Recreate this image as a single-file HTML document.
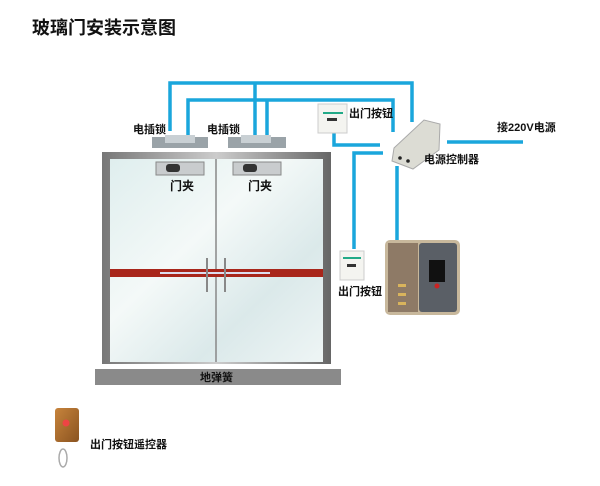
<!DOCTYPE html>
<html><head><meta charset="utf-8"><style>
html,body{margin:0;padding:0;background:#fff;}
svg{display:block;font-family:"Liberation Sans","Noto Sans CJK SC",sans-serif;}
</style></head><body>
<svg width="600" height="486" viewBox="0 0 600 486">
<defs>
<linearGradient id="gl" x1="0" y1="0" x2="1" y2="1">
<stop offset="0" stop-color="#dfeeee"/><stop offset="0.4" stop-color="#f4f9f8"/><stop offset="0.7" stop-color="#dbe9ea"/><stop offset="1" stop-color="#eef5f5"/></linearGradient>
<linearGradient id="fr" x1="0" y1="0" x2="1" y2="0">
<stop offset="0" stop-color="#777"/><stop offset="0.5" stop-color="#ccc"/><stop offset="1" stop-color="#666"/></linearGradient>
<linearGradient id="wood" x1="0" y1="0" x2="1" y2="1"><stop offset="0" stop-color="#c7843c"/><stop offset="1" stop-color="#8a5320"/></linearGradient>
</defs>
<text x="32" y="34" font-size="18" fill="#111" font-weight="bold">玻璃门安装示意图</text>
<g fill="none" stroke="#1aa6dc" stroke-width="3.5">
<polyline points="170,131 170,83 412,83 412,122"/>
<polyline points="188,136 188,100 393,100 393,132"/>
<line x1="255" y1="83" x2="255" y2="136"/>
<line x1="267" y1="100" x2="267" y2="136"/>
<polyline points="334,133 334,145 380,145"/>
<polyline points="383,153 354,153 354,249"/>
<line x1="397" y1="166" x2="397" y2="240"/>
<line x1="447" y1="142" x2="523" y2="142"/>
</g>
<!-- controller -->
<polygon points="394,148 424,120 440,124 439,150 413,169 392,161" fill="#dcdcd4" stroke="#aaa"/>
<circle cx="400" cy="158" r="1.8" fill="#222"/><circle cx="408" cy="161" r="1.8" fill="#222"/>
<g font-size="11" fill="#111" font-weight="bold">
<text x="133" y="133">电插锁</text>
<text x="207" y="133">电插锁</text>
<text x="349" y="117">出门按钮</text>
<text x="424" y="163">电源控制器</text>
<text x="497" y="131">接220V电源</text>
<text x="338" y="295">出门按钮</text>
<text x="90" y="448">出门按钮遥控器</text>
</g>
<!-- locks -->
<rect x="152" y="137" width="56" height="11" fill="#9aa3a8"/><rect x="165" y="135" width="30" height="8" fill="#c9d0d4"/>
<rect x="228" y="137" width="58" height="11" fill="#9aa3a8"/><rect x="241" y="135" width="30" height="8" fill="#c9d0d4"/>
<!-- door -->
<rect x="102" y="152" width="229" height="212" fill="url(#fr)"/>
<rect x="110" y="159" width="213" height="203" fill="url(#gl)"/>
<line x1="216" y1="159" x2="216" y2="362" stroke="#888" stroke-width="1.5"/>
<rect x="110" y="269" width="213" height="8" fill="#a8261b"/>
<rect x="160" y="272" width="110" height="2" fill="#dde"/>
<line x1="207" y1="258" x2="207" y2="292" stroke="#888" stroke-width="2"/>
<line x1="225" y1="258" x2="225" y2="292" stroke="#888" stroke-width="2"/>
<rect x="156" y="162" width="48" height="13" fill="#c9ccce" stroke="#888"/><rect x="166" y="164" width="14" height="8" rx="3" fill="#333"/>
<rect x="233" y="162" width="48" height="13" fill="#c9ccce" stroke="#888"/><rect x="243" y="164" width="14" height="8" rx="3" fill="#333"/>
<text x="170" y="190" font-size="12" font-weight="bold" fill="#111">门夹</text>
<text x="248" y="190" font-size="12" font-weight="bold" fill="#111">门夹</text>
<rect x="95" y="369" width="246" height="16" fill="#8a8a8a"/>
<text x="200" y="381" font-size="11" font-weight="bold" fill="#111">地弹簧</text>
<!-- buttons -->
<rect x="318" y="104" width="29" height="29" fill="#f4f4f0" stroke="#ccc"/><rect x="323" y="112" width="20" height="2" fill="#2a8"/><rect x="327" y="118" width="10" height="3" fill="#333"/>
<rect x="340" y="251" width="24" height="29" fill="#f4f4f0" stroke="#ccc"/><rect x="343" y="257" width="18" height="2" fill="#2a8"/><rect x="347" y="264" width="9" height="3" fill="#333"/>
<!-- fingerprint -->
<rect x="385" y="240" width="75" height="75" rx="5" fill="#c8b89c"/>
<rect x="388" y="243" width="30" height="69" fill="#8e7a66"/>
<rect x="419" y="243" width="38" height="69" rx="3" fill="#5a5f66"/>
<rect x="429" y="260" width="16" height="22" fill="#111"/><circle cx="437" cy="286" r="2.5" fill="#c22"/>
<rect x="398" y="284" width="8" height="3" fill="#d9b45c"/><rect x="398" y="293" width="8" height="3" fill="#d9b45c"/><rect x="398" y="302" width="8" height="3" fill="#d9b45c"/>
<!-- remote -->
<rect x="55" y="408" width="24" height="34" rx="3" fill="url(#wood)"/><circle cx="66" cy="423" r="3.5" fill="#e44"/>
<ellipse cx="63" cy="458" rx="4" ry="9" fill="none" stroke="#aaa" stroke-width="1.5"/>
</svg>
</body></html>
